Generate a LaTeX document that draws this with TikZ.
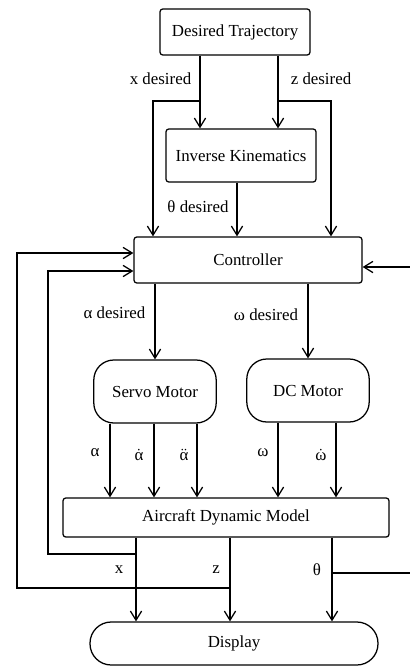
\documentclass[tikz,border=0pt]{standalone}
\usepackage{fontspec}
\setmainfont{Liberation Serif}
\usetikzlibrary{arrows.meta, positioning}

\begin{document}
\begin{tikzpicture}[
    >={Straight Barb[length=6.5pt, width=8pt]},
    line width=0.9pt,
    font=\fontsize{12}{14}\selectfont,
    block/.style={draw, rounded corners=2pt, minimum width=#1, inner sep=0pt},
    motor/.style={draw, rounded corners=0.5cm, minimum width=3.06cm,
                  minimum height=1.575cm, inner sep=0pt},
    lbl/.style={inner sep=0pt},
]
  \useasboundingbox (0,0) rectangle (10.25,-16.65);

  % blocks
  \node[block=3.75cm, minimum height=1.15cm] (traj) at (5.875, -0.8) {Desired Trajectory};
  \node[block=3.75cm, minimum height=1.325cm] (ik) at (6.025, -3.8875) {Inverse Kinematics};
  \node[block=5.7cm, minimum height=1.15cm] (ctrl) at (6.2, -6.5) {Controller};
  \node[motor] (servo) at (3.875, -9.7875) {Servo Motor};
  \node[motor] (dc) at (7.7, -9.7625) {DC Motor};
  \node[block=8.15cm, minimum height=0.975cm] (adm) at (5.65, -12.9375) {Aircraft Dynamic Model};
  \node[draw, rounded corners=0.53cm, minimum width=7.2cm, minimum height=1.075cm,
        inner sep=0pt] (disp) at (5.85, -16.0875) {Display};

  % branch points
  \coordinate (xd) at (5.0, -2.525);
  \coordinate (xl) at (3.825, -2.525);
  \coordinate (zd) at (6.95, -2.525);
  \coordinate (zr) at (8.275, -2.525);
  \coordinate (th) at (5.925, -5);

  \draw[->] (traj.south -| xd) -- (ik.north -| xd);
  \draw[->] (traj.south -| zd) -- (ik.north -| zd);
  \draw[->] (xd) -- (xl) -- (ctrl.north -| xl);
  \draw[->] (zd) -- (zr) -- (ctrl.north -| zr);
  \draw[->] (ik.south -| th) -- (ctrl.north -| th);

  \draw[->] (ctrl.south -| servo) -- (servo.north);
  \draw[->] (ctrl.south -| dc) -- (dc.north);

  \foreach \x in {2.75, 3.85, 4.925}
    \draw[->] (servo.south -| \x,0) -- (adm.north -| \x,0);
  \foreach \x in {6.95, 8.4}
    \draw[->] (dc.south -| \x,0) -- (adm.north -| \x,0);

  \foreach \x in {3.4, 5.75, 8.3}
    \draw[->] (adm.south -| \x,0) -- (disp.north -| \x,0);

  % feedback
  \coordinate (fx) at (3.4, -13.85);
  \coordinate (fxl) at (1.2, -6.775);
  \coordinate (fz) at (5.75, -14.7);
  \coordinate (fzl) at (0.425, -6.325);
  \coordinate (fth) at (8.3, -14.325);
  \coordinate (fthr) at (10.25, -6.675);

  \draw[->] (fx) -| (fxl) -- (ctrl.west |- fxl);
  \draw[->] (fz) -| (fzl) -- (ctrl.west |- fzl);
  \draw (fth) -- (fth -| fthr);
  \draw[->] (fthr) -- (ctrl.east |- fthr);

  % labels
  \node[lbl] (lxd) at (4.0125, -1.975) {x desired};
  \node[lbl] (lzd) at (8.025, -1.975) {z desired};
  \node[lbl] (lthd) at (4.95, -5.175) {θ desired};
  \node[lbl] (lad) at (2.8625, -7.825) {α desired};
  \node[lbl] (lwd) at (6.65, -7.875) {ω desired};
  \node[lbl] (la) at (2.375, -11.325) {α};
  \node[lbl] (lad1) at (3.475, -11.375) {$\dot{\mbox{α}}$};
  \node[lbl] (lad2) at (4.6, -11.375) {$\ddot{\mbox{α}}$};
  \node[lbl] (lw) at (6.575, -11.325) {ω};
  \node[lbl] (lwd1) at (8.025, -11.375) {$\dot{\mbox{ω}}$};
  \node[lbl] (lx) at (2.975, -14.25) {x};
  \node[lbl] (lz) at (5.4, -14.25) {z};
  \node[lbl] (lth) at (7.925, -14.25) {θ};
\end{tikzpicture}
\end{document}
